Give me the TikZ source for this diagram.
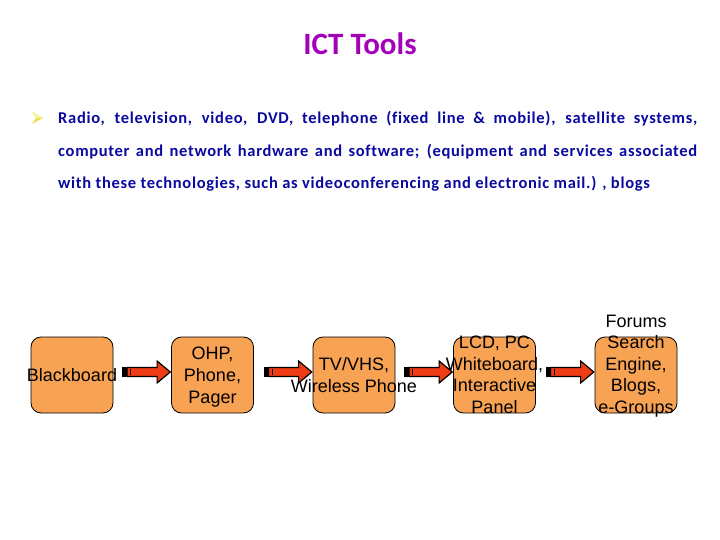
\documentclass[tikz,border=0pt]{standalone}
\usepackage{fontspec}
\setmainfont{Carlito}
\newfontfamily\arialfont{Liberation Sans}
\newfontfamily\bodyfont[LetterSpace=4.2,Ligatures=NoCommon]{Carlito}
\definecolor{titlepurple}{RGB}{165,0,185}
\definecolor{bodyblue}{RGB}{10,10,160}
\definecolor{boxorange}{RGB}{248,162,84}
\definecolor{arrowred}{RGB}{240,60,20}
\definecolor{bulletyellow}{RGB}{232,228,70}
\definecolor{bulletlight}{RGB}{245,245,160}
\tikzset{
  boxst/.style={draw=black, line width=0.8pt, fill=boxorange, rounded corners=10pt,
    minimum width=82pt, minimum height=76pt, inner sep=0pt},
  boxtext/.style={font=\arialfont\fontsize{18}{21.6}\selectfont, align=center, inner sep=0pt, text=black},
  bodyline/.style={font=\bodyfont\bfseries\fontsize{16.5}{18}\selectfont, text=bodyblue, anchor=base west, inner sep=0pt},
  arrowbody/.style={fill=arrowred, draw=black, line width=1.2pt, line join=miter},
}
\newcommand{\striparrow}[1]{%
  \begin{scope}[shift={([yshift=3pt]#1.west)}]
    \fill[black] (-49,-4.8) rectangle (-44,4.8);
    \draw[arrowbody] (-44,-4.5) -- (-14,-4.5) -- (-14,-11) -- (-0.8,0) -- (-14,11) -- (-14,4.5) -- (-44,4.5) -- cycle;
    \draw[black, line width=1pt] (-40.5,-3) -- (-40.5,3);
  \end{scope}}
\begin{document}
\begin{tikzpicture}[x=1pt, y=-1pt]
\useasboundingbox (0,0) rectangle (720,540);
\fill[white] (0,0) rectangle (720,540);

\node[font=\bfseries\fontsize{31}{36}\selectfont, text=titlepurple, anchor=base, inner sep=0pt] (title) at (360,55) {ICT Tools};

% bullet
\fill[bulletyellow] (32,112) -- (43,118) -- (32,124) -- (36,118) -- cycle;
\fill[bulletlight] (32,112) -- (43,118) -- (36,118) -- cycle;

\node[bodyline] (l1) at (58,124) {\hbox to 639pt{Radio, television, video, DVD, telephone (fixed line \& mobile), satellite systems,}};
\node[bodyline] (l2) at (58,157) {\hbox to 639pt{computer and network hardware and software; (equipment and services associated}};
\node[bodyline] (l3) at (58,189) {with these technologies, such as videoconferencing and electronic mail.) , blogs};

\node[boxst] (b1) at (72,375) {};
\node[boxst] (b2) at (212.5,375) {};
\node[boxst] (b3) at (354,375) {};
\node[boxst] (b4) at (494.5,375) {};
\node[boxst] (b5) at (636,375) {};

\node[boxtext] (t1) at (b1.center) {Blackboard};
\node[boxtext] (t2) at ([yshift=-2pt]b2.center) {OHP,\\Phone,\\Pager};
\node[boxtext] (t3) at (b3.center) {TV/VHS,\\Wireless Phone};
\node[boxtext] (t4) at (b4.center) {LCD, PC\\Whiteboard,\\Interactive\\Panel};
\node[boxtext] (t5) at ([yshift=9pt]b5.center) {Forums\\Search\\Engine,\\Blogs,\\e-Groups};

\striparrow{b2}
\striparrow{b3}
\striparrow{b4}
\striparrow{b5}
\end{tikzpicture}
\end{document}
